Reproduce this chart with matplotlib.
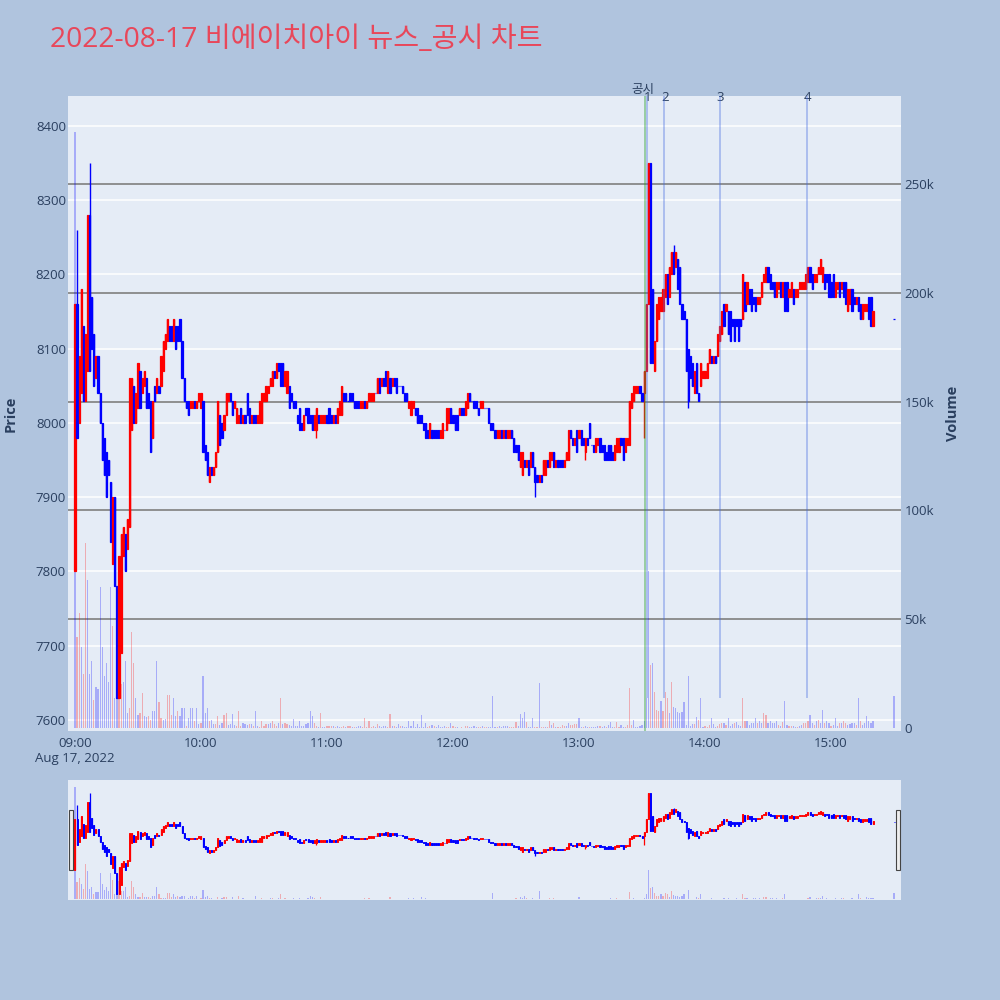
import matplotlib

matplotlib.use("Agg")
import numpy as np
import matplotlib.pyplot as plt
from matplotlib.lines import Line2D
from matplotlib.transforms import blended_transform_factory

plt.rcParams["font.family"] = ["Open Sans", "Noto Sans CJK KR", "DejaVu Sans"]

title = "2022-08-17 비에이치아이 뉴스_공시 차트"

# one candle per minute from 09:00 (minute 0) to 15:20, then the 15:30 close
opens = [
    7800, 8160, 8000, 8040, 8130, 8030, 8070, 8280, 8170, 8120,
    8060, 8090, 8040, 8000, 7980, 7960, 7950, 7920, 7810, 7900,
    7780, 7630, 7690, 7820, 7850, 7830, 7860, 7990, 8050, 8000,
    8020, 8070, 8040, 8050, 8060, 8040, 8030, 7980, 8050, 8040,
    8050, 8050, 8070, 8100, 8110, 8130, 8130, 8110, 8130, 8130,
    8140, 8110, 8060, 8030, 8030, 8020, 8020, 8030, 8020, 8030,
    8020, 8030, 7970, 7960, 7920, 7940, 7930, 7940, 7960, 8010,
    8000, 7990, 8010, 8030, 8040, 8030, 8020, 8000, 8000, 8020,
    8000, 8010, 8040, 8020, 8000, 8010, 8010, 8000, 8000, 8000,
    8030, 8030, 8040, 8050, 8050, 8070, 8060, 8080, 8080, 8080,
    8050, 8040, 8050, 8040, 8030, 8030, 8010, 8020, 8000, 7990,
    8020, 8020, 8010, 8010, 7990, 7990, 8010, 8000, 8000, 8000,
    8010, 8020, 8010, 8000, 8010, 8000, 8010, 8010, 8040, 8040,
    8030, 8040, 8040, 8030, 8030, 8030, 8020, 8020, 8030, 8020,
    8030, 8030, 8030, 8040, 8040, 8060, 8050, 8060, 8070, 8040,
    8060, 8050, 8060, 8060, 8050, 8050, 8050, 8040, 8040, 8020,
    8010, 8020, 8020, 8020, 8010, 8010, 8000, 8000, 7990, 7980,
    7990, 7990, 7990, 7990, 7980, 7980, 7990, 7990, 8000, 8020,
    8010, 8010, 8010, 8010, 8020, 8020, 8010, 8020, 8040, 8030,
    8030, 8030, 8020, 8020, 8020, 8020, 8020, 8020, 8000, 8000,
    7990, 7980, 7980, 7990, 7980, 7990, 7980, 7980, 7990, 7980,
    7970, 7970, 7940, 7930, 7950, 7940, 7950, 7940, 7960, 7940,
    7930, 7920, 7930, 7930, 7930, 7950, 7940, 7950, 7960, 7940,
    7950, 7950, 7950, 7940, 7950, 7950, 7990, 7980, 7970, 7990,
    7980, 7990, 7980, 7960, 7980, 8000, 7970, 7970, 7960, 7970,
    7980, 7970, 7970, 7960, 7970, 7970, 7960, 7950, 7960, 7960,
    7980, 7980, 7960, 7970, 7970, 8020, 8030, 8040, 8040, 8050,
    8040, 8040, 8070, 8160, 8350, 8180, 8070, 8110, 8140, 8150,
    8150, 8170, 8200, 8170, 8200, 8230, 8210, 8220, 8210, 8160,
    8150, 8140, 8100, 8090, 8080, 8040, 8080, 8040, 8050, 8060,
    8060, 8060, 8080, 8090, 8080, 8090, 8090, 8110, 8120, 8160,
    8150, 8150, 8150, 8140, 8140, 8140, 8140, 8140, 8140, 8190,
    8160, 8180, 8180, 8170, 8170, 8160, 8160, 8170, 8190, 8190,
    8210, 8200, 8190, 8190, 8170, 8180, 8190, 8170, 8190, 8190,
    8170, 8170, 8180, 8170, 8170, 8180, 8180, 8180, 8180, 8190,
    8210, 8200, 8190, 8190, 8200, 8200, 8190, 8200, 8200, 8200,
    8190, 8200, 8170, 8180, 8190, 8180, 8190, 8190, 8150, 8160,
    8180, 8170, 8160, 8170, 8160, 8140, 8150, 8150, 8170, 8170, 8130,
]
closes = [
    8160, 7980, 8090, 8180, 8030, 8120, 8280, 8070, 8100, 8050,
    8090, 8040, 8000, 7950, 7930, 7900, 7930, 7840, 7900, 7780,
    7630, 7820, 7850, 7860, 7800, 7870, 8060, 8060, 8000, 8040,
    8080, 8020, 8060, 8070, 8020, 8020, 7960, 8030, 8030, 8060,
    8040, 8090, 8110, 8120, 8140, 8110, 8110, 8140, 8100, 8110,
    8110, 8060, 8030, 8020, 8010, 8030, 8030, 8020, 8030, 8040,
    8040, 7960, 7950, 7930, 7940, 7930, 7940, 7960, 8030, 7970,
    7980, 8010, 8040, 8040, 8030, 8010, 8030, 8020, 8010, 8000,
    8010, 8000, 8010, 8000, 8010, 8000, 8000, 8010, 8030, 8040,
    8040, 8050, 8050, 8060, 8070, 8060, 8080, 8070, 8050, 8050,
    8070, 8070, 8020, 8030, 8020, 8020, 8000, 7990, 7990, 8010,
    8010, 8000, 8000, 7990, 8010, 8020, 8000, 8010, 8010, 8010,
    8000, 8000, 8000, 8010, 8000, 8020, 8030, 8050, 8030, 8030,
    8030, 8030, 8030, 8020, 8020, 8020, 8030, 8030, 8020, 8030,
    8040, 8040, 8040, 8040, 8060, 8040, 8060, 8050, 8050, 8070,
    8040, 8060, 8050, 8040, 8050, 8050, 8040, 8030, 8030, 8030,
    8030, 8030, 8010, 8000, 8000, 8000, 7990, 7980, 7980, 8000,
    7980, 7980, 7980, 7980, 7990, 8000, 7990, 8020, 8020, 8000,
    8000, 7990, 7990, 8020, 8010, 8010, 8030, 8040, 8030, 8030,
    8020, 8020, 8010, 8030, 8030, 8020, 8020, 8000, 7990, 7990,
    7980, 7990, 7990, 7980, 7990, 7980, 7990, 7990, 7980, 7960,
    7960, 7950, 7960, 7960, 7940, 7950, 7930, 7960, 7940, 7920,
    7920, 7930, 7920, 7950, 7950, 7940, 7960, 7960, 7940, 7950,
    7940, 7940, 7940, 7950, 7960, 7990, 7980, 7970, 7980, 7960,
    7990, 7970, 7970, 7980, 7970, 7980, 7970, 7960, 7980, 7980,
    7960, 7960, 7950, 7950, 7950, 7950, 7950, 7970, 7980, 7980,
    7970, 7950, 7980, 7980, 8030, 8040, 8050, 8050, 8050, 8040,
    8030, 8070, 8160, 8350, 8080, 8080, 8110, 8160, 8170, 8170,
    8180, 8200, 8160, 8210, 8230, 8200, 8230, 8180, 8160, 8140,
    8140, 8070, 8030, 8060, 8050, 8070, 8040, 8030, 8080, 8070,
    8070, 8080, 8100, 8080, 8090, 8080, 8120, 8130, 8150, 8130,
    8160, 8120, 8110, 8130, 8110, 8130, 8110, 8130, 8200, 8150,
    8190, 8160, 8150, 8160, 8150, 8170, 8170, 8190, 8200, 8210,
    8190, 8180, 8180, 8170, 8190, 8190, 8170, 8190, 8150, 8150,
    8180, 8190, 8160, 8180, 8180, 8190, 8190, 8190, 8200, 8210,
    8190, 8180, 8200, 8200, 8210, 8220, 8210, 8180, 8190, 8170,
    8170, 8170, 8190, 8190, 8170, 8190, 8170, 8160, 8180, 8180,
    8150, 8160, 8170, 8150, 8140, 8160, 8160, 8160, 8140, 8130, 8150,
]
wick_high = {1: 8260, 7: 8350, 285: 8240}
wick_low = {36: 7960, 115: 7980, 219: 7900, 243: 7950, 271: 7980, 292: 8020}

# volume in thousands of shares, colour side per minute (r / b)
vol_k = [
    274, 42, 53, 37, 25, 85, 68, 25, 31, 13,
    19, 18, 65, 37, 24, 30, 21, 65, 47, 14,
    14, 44, 20, 21, 31, 7, 9, 44, 30, 14,
    6, 7, 16, 5.5, 5, 5.5, 3.5, 8, 8, 31,
    12, 4.5, 3.5, 4, 15, 15, 6, 14, 5.5, 8,
    5.5, 9, 9, 1, 4.6, 9, 9, 3, 9, 2,
    2.5, 24, 7, 9, 3, 3.5, 2, 2, 5.3, 1.5,
    2.5, 6, 7, 1.5, 2, 6.6, 1.5, 1, 7.6, 0.8,
    2.5, 2, 1.5, 2, 2, 1, 8, 1, 0.5, 3.4,
    1, 2, 2, 2.5, 3, 2, 1, 2.5, 13.8, 2,
    2.5, 2, 1.5, 1, 4, 1, 1, 3.4, 1, 1,
    2, 2.5, 8, 5.5, 2.5, 1, 0.5, 7, 0.3, 0.5,
    1, 1, 0.8, 1, 0.3, 1, 0.5, 0.5, 1, 0.5,
    0.9, 0.8, 0.3, 0.5, 0.5, 0.9, 0.9, 0.5, 4.4, 0.6,
    3.4, 0.5, 0.8, 0.5, 1.8, 0.9, 0.5, 0.8, 0.8, 0.5,
    6.4, 0.8, 0.9, 0.5, 1.8, 0.8, 0.8, 0.5, 0.5, 3.2,
    0.8, 3.4, 0.5, 1.8, 0.5, 6.0, 0.5, 2.5, 0.5, 0.8,
    1.5, 0.8, 0.5, 1.5, 0.5, 0.3, 0.8, 0.5, 0.3, 2.2,
    0.9, 0.3, 0.3, 0.1, 0.3, 0.2, 0.9, 0.9, 0.3, 0.5,
    0.8, 0.5, 0.5, 0.3, 0.9, 0.5, 0.3, 0.3, 0.5, 14.7,
    0.3, 0.3, 0.9, 0.5, 0.8, 1.1, 0.9, 0.3, 0.5, 0.3,
    2.9, 0.8, 6.4, 4.4, 7.2, 2.9, 0.5, 0.5, 4.4, 0.5,
    0.3, 20.8, 0.5, 0.3, 0.5, 0.5, 3.2, 1.5, 2.5, 0.5,
    0.5, 0.3, 1.5, 0.8, 0.9, 2.2, 1.5, 1.5, 1.8, 1.8,
    4.7, 0.3, 0.3, 0.9, 0.3, 0.5, 0.5, 0.3, 0.3, 0.9,
    0.9, 0.3, 0.8, 0.3, 1.5, 2.9, 0.3, 0.3, 2.9, 0.3,
    1.4, 0.6, 0.6, 1.4, 18.2, 1.4, 3.7, 0.6, 0.6, 0.9,
    1.4, 3, 14, 72, 29, 30, 16.7, 8.3, 8, 12.4,
    8, 16.7, 14, 6.7, 21.3, 9.8, 9, 7.5, 6.7, 7.5,
    12.1, 1.5, 23.9, 0.9, 2, 2, 5.2, 3.7, 14, 0.6,
    0.9, 0.6, 1.4, 4.4, 2, 0.6, 1, 2, 2.2, 2.5,
    1.4, 4.4, 0.9, 2, 2.2, 2.8, 1.4, 1, 13.8, 3,
    3, 1.4, 2.2, 2.5, 4.4, 2.2, 3, 2.2, 6.7, 5.9,
    2.2, 3, 2.5, 2.2, 3, 1.4, 0.9, 2.6, 12.4, 1.4,
    1, 1, 0.9, 0.6, 0.6, 0.9, 1.4, 2.2, 2.2, 3,
    6.2, 2.2, 1.4, 3, 3.7, 2.5, 8.3, 2.2, 3, 2.2,
    1, 1.4, 4.4, 0.9, 2.2, 2.5, 3, 2.2, 1.4, 1.8,
    2.5, 2.2, 1.4, 14, 3, 1.4, 2.2, 5.7, 3, 2.5, 3.4,
]
vol_side = (
    "brrbrrbbbr" "bbbbbbbbrb" "brrbbbrrrb" "brrbbrrbbb" "rrbbrrrbbr"
    "bbbrbbbrbb" "rbbbrbbrrb" "brrbbbbrrr" "bbbrbrbbrr" "rrbbrrrbrb"
    "rrbbbbbbbb" "bbbbrrbrbb" "rrrbrbbrrb" "rrbrbbbrrr" "rrrbrbbbbr"
    "rbrbbrbbbb" "bbbbbbbbrr" "brbbbbbrrb" "rrbbrrrrbb" "bbrrbrrbbb"
    "brbbbbbrrr" "rbbbbrbbbr" "rbrrbrrbrb" "rrrrbbrrrr" "bbrbbrbbbb"
    "rbbrbbbrrr" "bbrrrrbbbb" "bbbbrbrrrb" "rrrbrbbbbb" "bbbbbrbrbb"
    "rrrbbbrrrb" "rbbbrbbbrr" "bbbbbrbbrr" "bbbbbrbrbb" "rrbbrbbrrr"
    "bbrbrbbrbb" "rbbbrbrrbb" "bbrbrbbbbbb"
)

# closing auction at 15:30
close_minute = 390
close_price = 8140
close_vol_k = 14.7

tick_minutes = [0, 60, 120, 180, 240, 300, 360]
tick_labels = ["09:00\nAug 17, 2022", "10:00", "11:00", "12:00", "13:00", "14:00", "15:00"]
price_ticks = [7600, 7700, 7800, 7900, 8000, 8100, 8200, 8300, 8400]
vol_ticks = [0, 50000, 100000, 150000, 200000, 250000]
vol_tick_labels = ["0", "50k", "100k", "150k", "200k", "250k"]

# vertical markers: disclosure + news items
event_minutes = [271.3, 272.4, 280.5, 307.1, 348.6]
event_labels = ["공시", "1", "2", "3", "4"]

text_col = "#2a3f5f"
bg = "#b0c4de"
plot_bg = "#e5ecf6"
RED, BLUE = "#ff0000", "#0000ff"

# ---- assemble arrays
x = np.append(np.arange(len(closes)), close_minute).astype(float)
o = np.array(opens + [close_price], dtype=float)
c = np.array(closes + [close_price], dtype=float)
hi = np.maximum(o, c)
lo = np.minimum(o, c)
for k, v in wick_high.items():
    hi[k] = v
for k, v in wick_low.items():
    lo[k] = v
cols = np.where(c > o, RED, BLUE)
vol = np.array(vol_k + [close_vol_k]) * 1000
vcols = [RED if s == "r" else BLUE for s in vol_side] + [BLUE]

xlim = (-3.3, 393.3)
plim = (7585, 8440)
vlim = (-1380, 290400)


def draw_candles(ax, wick_lw, body_w, edge_lw):
    ax.vlines(x, lo, hi, colors=cols, lw=wick_lw, zorder=3)
    ax.bar(x, c - o, bottom=o, width=body_w, color=cols, edgecolor=cols,
           linewidth=edge_lw, zorder=3)


fig = plt.figure(figsize=(10, 10), dpi=100)
fig.patch.set_facecolor(bg)

# ---- main chart: volume axes behind, price axes on top
ax_v = fig.add_axes([0.068, 0.269, 0.833, 0.635])
ax_v.set_facecolor(plot_bg)
ax_p = ax_v.twinx()

ax_v.set_xlim(*xlim)
ax_v.set_ylim(*vlim)
ax_p.set_ylim(*plim)

ax_v.bar(x, vol, width=0.55, color=vcols, alpha=0.27, linewidth=0, zorder=2)

# price grid (white) drawn on the back axes so it stays under the bars
tr = blended_transform_factory(ax_v.transAxes, ax_p.transData)
for p in price_ticks:
    ax_v.add_line(Line2D([0, 1], [p, p], transform=tr, color="white", lw=1.1, zorder=0.5))
for v in vol_ticks[1:]:
    ax_v.axhline(v, color="#7f7f7f", lw=1.2, zorder=0.8)

draw_candles(ax_p, 1.0, 0.55, 0.9)

# event lines
ax_p.axvline(event_minutes[0], color="#2ca02c", alpha=0.45, lw=1.3, zorder=4)
for m in event_minutes[1:]:
    ax_p.vlines(m, 7630, plim[1], color="#4169e1", alpha=0.45, lw=1.1, zorder=4)
lbl_tr = blended_transform_factory(ax_p.transData, ax_p.transAxes)
ax_p.text(event_minutes[0] - 0.8, 1.011, event_labels[0], transform=lbl_tr, ha="center",
          va="center", fontsize=9, color=text_col)
for m, lab in zip(event_minutes[1:], event_labels[1:]):
    ax_p.text(m + 0.3, 0.998, lab, transform=lbl_tr, ha="center", va="center",
              fontsize=9.5, color=text_col)

# axes cosmetics
for a in (ax_v, ax_p):
    for s in a.spines.values():
        s.set_visible(False)
ax_v.yaxis.tick_right()
ax_v.yaxis.set_label_position("right")
ax_p.yaxis.tick_left()
ax_p.yaxis.set_label_position("left")

ax_v.set_yticks(vol_ticks)
ax_v.set_yticklabels(vol_tick_labels)
ax_p.set_yticks(price_ticks)
ax_v.set_xticks(tick_minutes)
ax_v.set_xticklabels(tick_labels)
ax_v.tick_params(axis="y", length=0, pad=2.5, labelsize=9.5, labelcolor=text_col)
ax_p.tick_params(axis="y", length=0, pad=1.5, labelsize=9.5, labelcolor=text_col)
ax_v.tick_params(axis="x", length=0, pad=4, labelsize=9.5, labelcolor=text_col)

ax_p.set_ylabel("Price", fontsize=10.5, fontweight="bold", color=text_col)
ax_p.yaxis.set_label_coords(-0.060, 0.5)
ax_v.set_ylabel("Volume", fontsize=10.5, fontweight="bold", color=text_col)
ax_v.yaxis.set_label_coords(1.054, 0.5)

fig.text(0.05, 0.96, title, fontsize=20.3, color="#e8475a", ha="left", va="center")

# ---- range slider
ax_r = fig.add_axes([0.068, 0.100, 0.833, 0.120])
ax_r.set_facecolor(plot_bg)
ax_r.set_xlim(*xlim)
ax_r.set_ylim(*vlim)
ax_r.bar(x, vol, width=0.55, color=vcols, alpha=0.27, linewidth=0, zorder=2)
ax_r2 = ax_r.twinx()
ax_r2.set_ylim(*plim)
draw_candles(ax_r2, 0.9, 0.5, 0.7)
for a in (ax_r, ax_r2):
    a.set_xticks([])
    a.set_yticks([])
    for s in a.spines.values():
        s.set_visible(False)

for hx in (0.0685, 0.8955):
    fig.patches.append(plt.Rectangle((hx, 0.130), 0.0045, 0.060, transform=fig.transFigure,
                                     facecolor="#eeeeee", edgecolor="#444444", lw=0.8,
                                     zorder=10))

fig.savefig("out.png", dpi=100, facecolor=bg)
